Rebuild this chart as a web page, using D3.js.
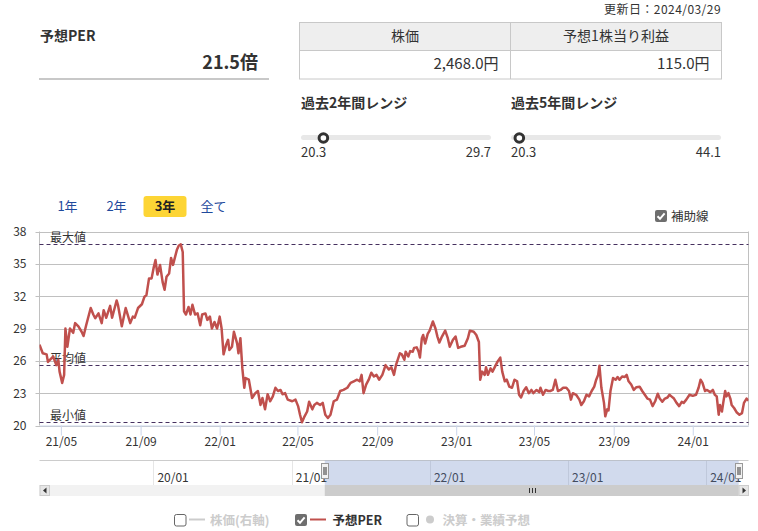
<!DOCTYPE html>
<html><head><meta charset="utf-8">
<script src="https://cdn.jsdelivr.net/npm/d3@7"></script>
<style>
body{margin:0;background:#fff}
svg{display:block}
text{font-family:"Noto Sans CJK JP","Noto Sans",sans-serif;fill:#333}
</style>
</head><body>
<svg id="c" width="758" height="531"></svg>
<script>
// ---------- data ----------
const startDate = "2021-03-29";
const endDate = "2024-03-27";
const navStart = "2019-03-06";
const navEnd = "2024-04-22";
const updated = "更新日：2024/03/29";
const perTitle = "予想PER";
const currentPER = 21.5;
const tableHeaders = ["株価", "予想1株当り利益"];
const tableValues = ["2,468.0円", "115.0円"];
const rangeTitles = ["過去2年間レンジ", "過去5年間レンジ"];
const rangeMin = [20.3, 20.3];
const rangeMax = [29.7, 44.1];
const tabs = ["1年", "2年", "3年", "全て"];
const activeTab = "3年";
const yTicks = [20, 23, 26, 29, 32, 35, 38];
const refValues = [36.8, 25.6, 20.3];
const refLabels = ["最大値", "平均値", "最小値"];
const legendNames = ["株価(右軸)", "予想PER", "決算・業績予想"];
const legendOn = [false, true, false];

// day offsets from startDate
const days = [0,5,11,13,21,26,29,31,35,38,40,43,47,52,55,60,65,68,72,79,83,86,91,96,99,103,109,112,119,121,127,133,140,144,147,152,158,162,165,169,173,176,179,182,186,190,193,196,200,203,206,209,212,215,218,221,223,226,230,233,236,240,244,248,251,256,259,263,266,270,274,278,281,284,288,291,293,297,300,305,307,310,313,316,318,323,328,333,337,341,344,348,352,356,360,364,368,372,375,379,383,390,395,399,402,405,409,413,416,421,424,428,433,437,441,445,449,454,459,464,469,475,480,485,490,494,497,500,504,508,512,516,520,524,529,534,539,543,547,550,556,559,563,565,569,572,576,578,582,585,587,590,592,595,599,602,607,611,614,617,621,626,630,633,638,642,646,650,656,661,664,670,674,678,680,683,687,689,692,696,699,704,707,711,714,718,721,725,729,733,737,740,743,747,751,755,759,762,767,771,773,777,781,785,788,792,796,800,804,808,813,817,820,823,828,833,836,840,844,848,852,856,859,862,864,867,871,873,876,878,881,885,889,892,895,899,903,906,909,913,917,921,926,930,934,938,942,946,950,954,957,961,965,969,972,975,979,983,987,991,994,998,1003,1008,1013,1017,1020,1023,1027,1030,1035,1039,1042,1045,1048,1050,1053,1055,1058,1060,1063,1066,1068,1072,1076,1080,1084,1087,1091,1094];
const per = [27.5,26.7,26.6,25.9,26.4,25.6,26.1,25.0,23.95,24.7,29.0,27.3,29.0,28.6,29.5,29.2,28.7,28.3,29.3,30.9,30.3,29.95,30.4,29.5,30.7,30.0,31.1,30.0,31.6,31.2,29.2,30.9,29.5,30.1,30.0,30.9,31.25,31.95,32.1,33.65,33.65,34.6,35.35,34.0,34.9,33.3,32.6,33.8,34.1,35.55,34.9,35.6,36.3,36.7,36.8,36.1,30.6,30.3,31.0,30.3,31.2,30.3,30.4,29.3,30.3,30.4,29.8,30.1,29.0,29.6,29.0,30.1,29.0,26.6,27.5,27.95,27.0,27.3,28.7,27.6,26.7,28.1,25.3,23.5,24.4,24.25,22.55,23.0,23.2,21.9,22.55,21.5,22.9,22.25,22.7,23.5,23.2,23.3,22.9,23.0,22.4,22.25,22.4,21.8,21.0,20.3,20.85,21.3,22.2,21.5,21.9,22.1,21.9,22.1,21.0,20.7,21.0,22.25,22.4,23.2,23.3,23.5,23.95,24.1,24.25,24.1,24.7,23.0,23.8,24.25,24.9,24.55,24.7,24.25,24.7,25.6,25.2,25.4,24.7,25.6,26.7,26.6,26.1,26.85,26.4,26.9,26.85,27.2,27.25,26.85,26.3,28.1,28.4,27.6,28.5,28.8,29.65,29.0,28.25,27.7,28.25,28.8,28.1,27.3,27.95,28.25,27.2,27.3,27.4,28.1,28.8,28.7,28.4,27.75,24.25,25.0,24.7,25.4,24.7,25.3,25.0,25.6,25.95,26.3,25.0,24.1,24.25,23.6,23.5,24.25,24.1,22.85,22.6,23.2,23.55,23.0,23.3,23.0,23.3,23.1,23.5,22.85,23.3,23.2,23.2,23.3,24.25,23.2,23.3,23.5,23.5,23.2,22.4,23.0,22.85,22.4,21.9,22.25,22.85,22.7,23.2,23.6,24.25,24.7,25.55,23.5,22.1,20.85,21.5,21.4,23.2,24.4,24.25,24.5,24.25,24.55,24.5,24.7,24.1,23.8,23.3,23.55,23.6,23.2,22.85,22.5,22.4,21.8,22.25,22.95,22.5,22.2,22.5,22.6,22.85,22.7,22.5,22.1,21.8,22.2,22.1,22.4,22.85,22.75,22.85,23.5,24.25,23.95,23.2,23.3,23.1,23.3,22.85,22.7,21.0,21.9,21.3,22.1,23.2,22.7,23.0,22.5,21.9,21.6,21.2,21.0,21.15,22.1,22.5,22.3,21.5];

// ---------- drawing ----------
const parse = d3.timeParse("%Y-%m-%d");
const t0 = parse(startDate), t1 = parse(endDate);
const series = days.map((d, i) => ({date: d3.timeDay.offset(t0, d), v: per[i]}));
const svg = d3.select("#c");
const gridC = "#c0c0c0";

// header texts
svg.append("text").attr("x", 721).attr("y", 14).attr("text-anchor", "end")
  .attr("font-size", 12).attr("letter-spacing", 0.45).text(updated);
svg.append("text").attr("x", 40).attr("y", 41).attr("font-size", 14)
  .attr("font-weight", "bold").text(perTitle);
svg.append("text").attr("x", 258).attr("y", 69).attr("text-anchor", "end")
  .attr("font-size", 18).attr("font-weight", "bold").text(currentPER.toFixed(1) + "倍");
svg.append("rect").attr("x", 39).attr("y", 78).attr("width", 230).attr("height", 2).attr("fill", "#c8c8c8");

// table
const tx = [299.5, 510.5, 721.5];
svg.append("rect").attr("x", tx[0]).attr("y", 22.5).attr("width", tx[2] - tx[0]).attr("height", 28)
  .attr("fill", "#eeeeee");
svg.append("rect").attr("x", tx[0]).attr("y", 22.5).attr("width", tx[2] - tx[0]).attr("height", 56.5)
  .attr("fill", "none").attr("stroke", "#c8c8c8");
svg.append("line").attr("x1", tx[0]).attr("x2", tx[2]).attr("y1", 50.5).attr("y2", 50.5).attr("stroke", "#c8c8c8");
svg.append("line").attr("x1", tx[1]).attr("x2", tx[1]).attr("y1", 22.5).attr("y2", 79).attr("stroke", "#c8c8c8");
tableHeaders.forEach((h, i) => {
  svg.append("text").attr("x", (tx[i] + tx[i + 1]) / 2).attr("y", 41).attr("text-anchor", "middle")
    .attr("font-size", 14).text(h);
  svg.append("text").attr("x", tx[i + 1] - 12).attr("y", 69).attr("text-anchor", "end")
    .attr("font-size", 15).text(tableValues[i]);
});

// range sliders
const rx0 = [301, 511], rx1 = [491, 721];
rangeTitles.forEach((t, i) => {
  svg.append("text").attr("x", rx0[i]).attr("y", 108).attr("font-size", 14).attr("font-weight", "bold").text(t);
  svg.append("rect").attr("x", rx0[i]).attr("y", 135).attr("width", rx1[i] - rx0[i]).attr("height", 5)
    .attr("rx", 2.5).attr("fill", "#e8e8e8");
  const s = d3.scaleLinear().domain([rangeMin[i], rangeMax[i]]).range([rx0[i] - 2.5, rx1[i] + 2.5]);
  svg.append("circle").attr("cx", s(currentPER)).attr("cy", 138).attr("r", 4.3)
    .attr("fill", "#fff").attr("stroke", "#333").attr("stroke-width", 3);
  svg.append("text").attr("x", rx0[i]).attr("y", 157).attr("font-size", 13).text(rangeMin[i].toFixed(1));
  svg.append("text").attr("x", rx1[i]).attr("y", 157).attr("text-anchor", "end").attr("font-size", 13).text(rangeMax[i].toFixed(1));
});

// tabs
const tabX = [67.5, 116.5, 165, 213.5];
tabs.forEach((t, i) => {
  if (t === activeTab) {
    svg.append("rect").attr("x", 143.5).attr("y", 196).attr("width", 43).attr("height", 21)
      .attr("rx", 3).attr("fill", "#fdd535");
  }
  svg.append("text").attr("x", tabX[i]).attr("y", 210.5).attr("text-anchor", "middle")
    .attr("font-size", 13).attr("font-weight", t === activeTab ? "bold" : "normal")
    .style("fill", t === activeTab ? "#222" : "#1f4a9c").text(t);
});

function checkbox(g, x, y, on) {
  if (on) {
    g.append("rect").attr("x", x).attr("y", y).attr("width", 12).attr("height", 12).attr("rx", 2).attr("fill", "#6e6e6e");
    g.append("path").attr("d", `M${x + 2.5},${y + 6.2} L${x + 5},${y + 8.8} L${x + 9.6},${y + 3.4}`)
      .attr("fill", "none").attr("stroke", "#fff").attr("stroke-width", 2);
  } else {
    g.append("rect").attr("x", x + 0.5).attr("y", y + 0.5).attr("width", 11.5).attr("height", 11.5).attr("rx", 2)
      .attr("fill", "#fff").attr("stroke", "#666").attr("stroke-width", 1);
  }
}
checkbox(svg, 655, 210, true);
svg.append("text").attr("x", 671).attr("y", 221).attr("font-size", 12.5).text("補助線");

// ---------- main chart ----------
const L = 39.5, R = 748.5, T = 231.5, B = 425.5;
const x = d3.scaleTime().domain([t0, t1]).range([L, R]);
const y = d3.scaleLinear().domain([20, 38]).range([B, T]);

svg.append("defs").append("clipPath").attr("id", "clip")
  .append("rect").attr("x", L).attr("y", T - 5).attr("width", R - L).attr("height", B - T + 10);

// grid
svg.append("g").selectAll("line").data(yTicks).join("line")
  .attr("x1", L - 4).attr("x2", R).attr("y1", d => Math.round(y(d)) + 0.5).attr("y2", d => Math.round(y(d)) + 0.5)
  .attr("stroke", gridC);
svg.append("line").attr("x1", R).attr("x2", R).attr("y1", T).attr("y2", B).attr("stroke", gridC);
svg.append("line").attr("x1", L).attr("x2", L).attr("y1", T).attr("y2", B).attr("stroke", gridC);

// y labels via axis
const yAxis = svg.append("g").attr("transform", `translate(${L},0)`)
  .call(d3.axisLeft(y).tickValues(yTicks).tickSize(0).tickPadding(13).tickFormat(d3.format("d")));
yAxis.select(".domain").remove();
yAxis.selectAll("text").attr("font-size", 12).style("font-family", '"Noto Sans CJK JP",sans-serif').style("fill", "#333");

// x axis
const xAxis = svg.append("g").attr("transform", `translate(0,${B})`)
  .call(d3.axisBottom(x).ticks(d3.timeMonth.every(4)).tickFormat(d3.timeFormat("%y/%m")).tickSize(10).tickSizeOuter(0).tickPadding(2));
xAxis.select(".domain").attr("stroke", "#ccd6eb");
xAxis.selectAll(".tick line").attr("stroke", "#ccd6eb");
xAxis.selectAll("text").attr("font-size", 12).style("font-family", '"Noto Sans CJK JP",sans-serif').style("fill", "#333");

// reference lines
refValues.forEach((v, i) => {
  const yy = Math.round(y(v)) + 0.5;
  svg.append("line").attr("x1", L).attr("x2", R).attr("y1", yy).attr("y2", yy)
    .attr("stroke", "#46305f").attr("stroke-dasharray", "4,3");
  svg.append("text").attr("x", 50).attr("y", yy - 3).attr("font-size", 12).text(refLabels[i]);
});

// PER line
svg.append("path").datum(series).attr("clip-path", "url(#clip)")
  .attr("fill", "none").attr("stroke", "#c0504d").attr("stroke-width", 2.5)
  .attr("stroke-linejoin", "round")
  .attr("d", d3.line().x(d => x(d.date)).y(d => y(d.v)));

// ---------- navigator ----------
const nx = d3.scaleTime().domain([parse(navStart), parse(navEnd)]).range([L, R]);
const NT = 460.5, NB = 485;
const yearTicks = nx.ticks(d3.timeYear.every(1));
svg.append("g").selectAll("line").data(yearTicks).join("line")
  .attr("x1", d => Math.round(nx(d)) + 0.5).attr("x2", d => Math.round(nx(d)) + 0.5)
  .attr("y1", NT).attr("y2", NB).attr("stroke", "#e6e6e6");
svg.append("g").selectAll("text").data(yearTicks).join("text")
  .attr("x", d => nx(d) + 4).attr("y", 481.5).attr("font-size", 12)
  .text(d3.timeFormat("%y/%m"));
svg.append("line").attr("x1", L).attr("x2", R).attr("y1", NT).attr("y2", NT).attr("stroke", "#cccccc");
const m0 = nx(t0), m1 = nx(t1);
svg.append("rect").attr("x", m0).attr("y", NT).attr("width", m1 - m0).attr("height", NB - NT)
  .attr("fill", "rgba(102,133,194,0.3)");
[m0, m1].forEach(hx => {
  const h = Math.round(hx);
  svg.append("rect").attr("x", h - 3.5).attr("y", 463.5).attr("width", 7).attr("height", 15)
    .attr("fill", "#f2f2f2").attr("stroke", "#999");
  [-1, 1].forEach(o => svg.append("line").attr("x1", h + o).attr("x2", h + o).attr("y1", 467).attr("y2", 475)
    .attr("stroke", "#333"));
});

// scrollbar
svg.append("rect").attr("x", L).attr("y", 485).attr("width", R - L).attr("height", 11).attr("fill", "#f2f2f2");
svg.append("rect").attr("x", m0).attr("y", 485).attr("width", m1 - m0).attr("height", 11).attr("fill", "#cccccc");
[[L, -1], [R - 10, 1]].forEach(([bx, dir]) => {
  svg.append("rect").attr("x", bx + 0.5).attr("y", 485.5).attr("width", 9.5).attr("height", 10)
    .attr("fill", "#e6e6e6").attr("stroke", "#cccccc");
  const cx = bx + 5.5, cy = 490.5;
  svg.append("path").attr("d", `M${cx + dir * 2},${cy} L${cx - dir * 1.5},${cy - 3} L${cx - dir * 1.5},${cy + 3} Z`).attr("fill", "#333");
});
const gc = Math.round((m0 + m1) / 2);
[-3, 0, 3].forEach(o => svg.append("line").attr("x1", gc + o + 0.5).attr("x2", gc + o + 0.5)
  .attr("y1", 488).attr("y2", 493).attr("stroke", "#333"));

// ---------- legend ----------
const legX = [174, 295, 406.5];
legendNames.forEach((n, i) => {
  const g = svg.append("g");
  checkbox(g, legX[i], 514, legendOn[i]);
  if (i < 2) {
    g.append("line").attr("x1", legX[i] + 15).attr("x2", legX[i] + 31).attr("y1", 519.5).attr("y2", 519.5)
      .attr("stroke", legendOn[i] ? "#c0504d" : "#cccccc").attr("stroke-width", 2);
    g.append("text").attr("x", legX[i] + (i === 0 ? 36 : 37.5)).attr("y", 524.5).attr("font-size", 12.5)
      .attr("font-weight", "bold").style("fill", legendOn[i] ? "#333" : "#cccccc").text(n);
  } else {
    g.append("circle").attr("cx", legX[i] + 23.5).attr("cy", 519.5).attr("r", 4).attr("fill", "#cccccc");
    g.append("text").attr("x", legX[i] + 36).attr("y", 524.5).attr("font-size", 12.5)
      .attr("font-weight", "bold").style("fill", "#cccccc").text(n);
  }
});
</script>
</body></html>
